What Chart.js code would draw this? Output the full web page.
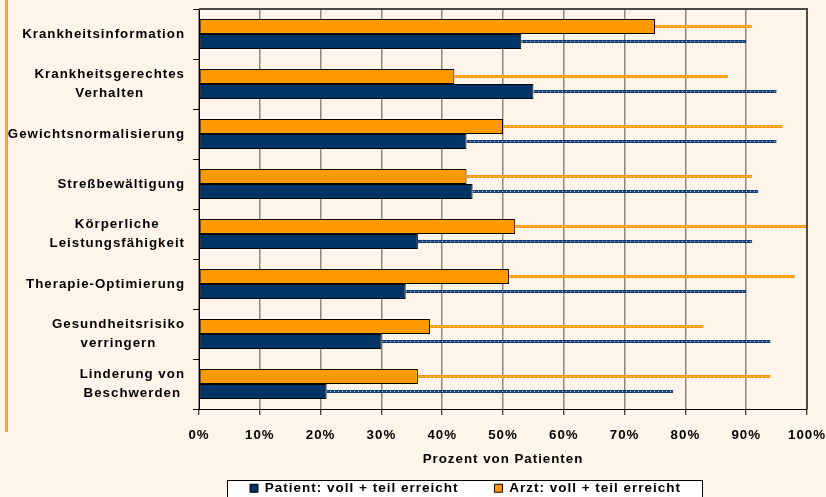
<!DOCTYPE html>
<html>
<head>
<meta charset="utf-8">
<script src="https://cdn.jsdelivr.net/npm/chart.js@4.4.1/dist/chart.umd.min.js"></script>
<style>
  html, body { margin: 0; padding: 0; background: #fef4ea; overflow: hidden; }
  #wrap { width: 826px; height: 497px; overflow: hidden; }
  canvas { display: block; }
</style>
</head>
<body>
<div id="wrap"><canvas id="chart" width="826" height="540"></canvas></div>
<script>
const categories = [
  'Krankheitsinformation',
  ['Krankheitsgerechtes', 'Verhalten'],
  'Gewichtsnormalisierung',
  'Streßbewältigung',
  ['Körperliche', 'Leistungsfähigkeit'],
  'Therapie-Optimierung',
  ['Gesundheitsrisiko', 'verringern'],
  ['Linderung von', 'Beschwerden'],
];

// solid bar = voll erreicht, dotted line runs on to voll + teil erreicht (%)
const patientVoll  = [53, 55, 44, 45, 36, 34, 30, 21];
const patientTotal = [90, 95, 95, 92, 91, 90, 94, 78];
const arztVoll     = [75, 42, 50, 44, 52, 51, 38, 36];
const arztTotal    = [91, 87, 96, 91, 100, 98, 83, 94];

const seriesNames = ['Patient: voll + teil erreicht', 'Arzt: voll + teil erreicht'];
const xTitle = 'Prozent von Patienten';

const FONT = "'Liberation Sans', Arial, Helvetica, sans-serif";
const NAVY = '#003366';
const ORANGE = '#ff9900';

const ctx = document.getElementById('chart').getContext('2d');

// chain look of the thin "teil" line: colour with small light holes
function dots(base, light) {
  const c = document.createElement('canvas');
  c.width = 4; c.height = 1;
  const g = c.getContext('2d');
  g.fillStyle = base;
  g.fillRect(0, 0, 4, 1);
  g.fillStyle = light;
  g.fillRect(2, 0, 1, 1);
  return ctx.createPattern(c, 'repeat');
}

const diff = (tot, voll) => tot.map((t, i) => t - voll[i]);

const LEGEND_PAD = 36;

const decor = {
  id: 'decor',
  beforeLayout(chart) { chart.ctx.letterSpacing = '1px'; },
  afterLayout(chart) {
    const lg = chart.legend;
    lg.left = 250 - LEGEND_PAD;
    lg.right = 720;
    lg.width = lg.right - lg.left;
    lg.top = 481.5 - LEGEND_PAD;
    lg.bottom = lg.top + lg.height;
  },
  beforeDraw(chart) {
    const c = chart.ctx;
    c.letterSpacing = '1px';
    c.save();
    c.fillStyle = '#f9a03f';
    c.fillRect(5, 0, 3, 432);
    // legend frame
    c.fillStyle = '#ffffff';
    c.fillRect(227, 480, 476, 40);
    c.strokeStyle = '#000';
    c.lineWidth = 1;
    c.strokeRect(227.5, 480.5, 475, 40);
    c.restore();
  },
  afterDraw(chart) {
    const c = chart.ctx;
    const { chartArea: a } = chart;
    const ys = chart.scales.y;
    c.save();
    // top + right frame of the plot
    c.strokeStyle = '#4a4a4a';
    c.lineWidth = 2;
    c.beginPath();
    c.moveTo(a.left, a.top);
    c.lineTo(a.right, a.top);
    c.lineTo(a.right, a.bottom);
    c.stroke();
    // category labels: block right-aligned, lines centred
    c.font = `bold 13.3px ${FONT}`;
    c.letterSpacing = '1px';
    c.fillStyle = '#000';
    c.textAlign = 'center';
    c.textBaseline = 'middle';
    const right = ys.right - 14;
    categories.forEach((lbl, i) => {
      const lines = Array.isArray(lbl) ? lbl : [lbl];
      const w = Math.max(...lines.map(s => c.measureText(s).width));
      const yc = ys.getPixelForTick(i);
      lines.forEach((s, j) => {
        c.fillText(s, right - w / 2, yc + (j - (lines.length - 1) / 2) * 18.7);
      });
    });
    c.restore();
  },
};

new Chart(ctx, {
  type: 'bar',
  plugins: [decor],
  data: {
    labels: categories,
    datasets: [
      {
        label: seriesNames[1], stack: 'arzt', data: arztVoll,
        backgroundColor: ORANGE, borderColor: '#000', borderWidth: 1,
        borderSkipped: false, barPercentage: 1,
      },
      {
        label: 'arzt teil', stack: 'arzt', data: diff(arztTotal, arztVoll),
        backgroundColor: dots('#ff9d10', '#ffe6bd'), borderColor: '#ff9900', borderWidth: 1,
        borderSkipped: false, barPercentage: 0.2,
      },
      {
        label: seriesNames[0], stack: 'patient', data: patientVoll,
        backgroundColor: NAVY, borderColor: '#000', borderWidth: 1,
        borderSkipped: false, barPercentage: 1,
      },
      {
        label: 'patient teil', stack: 'patient', data: diff(patientTotal, patientVoll),
        backgroundColor: dots('#1a4a7e', '#b8cbe0'), borderColor: '#123f70', borderWidth: 1,
        borderSkipped: false, barPercentage: 0.2,
      },
    ],
  },
  options: {
    indexAxis: 'y',
    responsive: false,
    animation: false,
    categoryPercentage: 0.6,
    layout: { padding: { top: 9, right: 19, left: 0, bottom: 3.5 } },
    plugins: {
      tooltip: { enabled: false },
      legend: {
        position: 'bottom',
        align: 'start',
        labels: {
          color: '#000',
          font: { family: FONT, size: 13.5, weight: 'bold' },
          boxWidth: 8,
          boxHeight: 8,
          padding: LEGEND_PAD,
          filter: item => item.datasetIndex % 2 === 0,
          sort: (a, b) => b.datasetIndex - a.datasetIndex,
        },
      },
    },
    scales: {
      x: {
        stacked: true,
        min: 0,
        max: 100,
        afterFit: s => { s.height = 68; s.paddingRight = 0; s.paddingLeft = 0; },
        grid: {
          color: '#8f877f',
          lineWidth: 1.5,
          tickColor: '#000',
          tickWidth: 1,
          tickLength: 6,
        },
        border: { color: '#000', width: 1 },
        ticks: {
          stepSize: 10,
          padding: 12,
          maxRotation: 0,
          autoSkip: false,
          color: '#000',
          font: { family: FONT, size: 13.3, weight: 'bold' },
          callback: v => v + '%',
        },
        title: {
          display: true,
          text: xTitle,
          color: '#000',
          font: { family: FONT, size: 13.3, weight: 'bold' },
          padding: { top: 0, bottom: 9.5 },
        },
      },
      y: {
        stacked: true,
        afterFit: s => { s.width = 199; },
        grid: {
          offset: true,
          drawOnChartArea: false,
          tickColor: '#000',
          tickWidth: 1,
          tickLength: 6,
        },
        border: { color: '#000', width: 1 },
        ticks: { display: false },
      },
    },
  },
});
</script>
</body>
</html>
